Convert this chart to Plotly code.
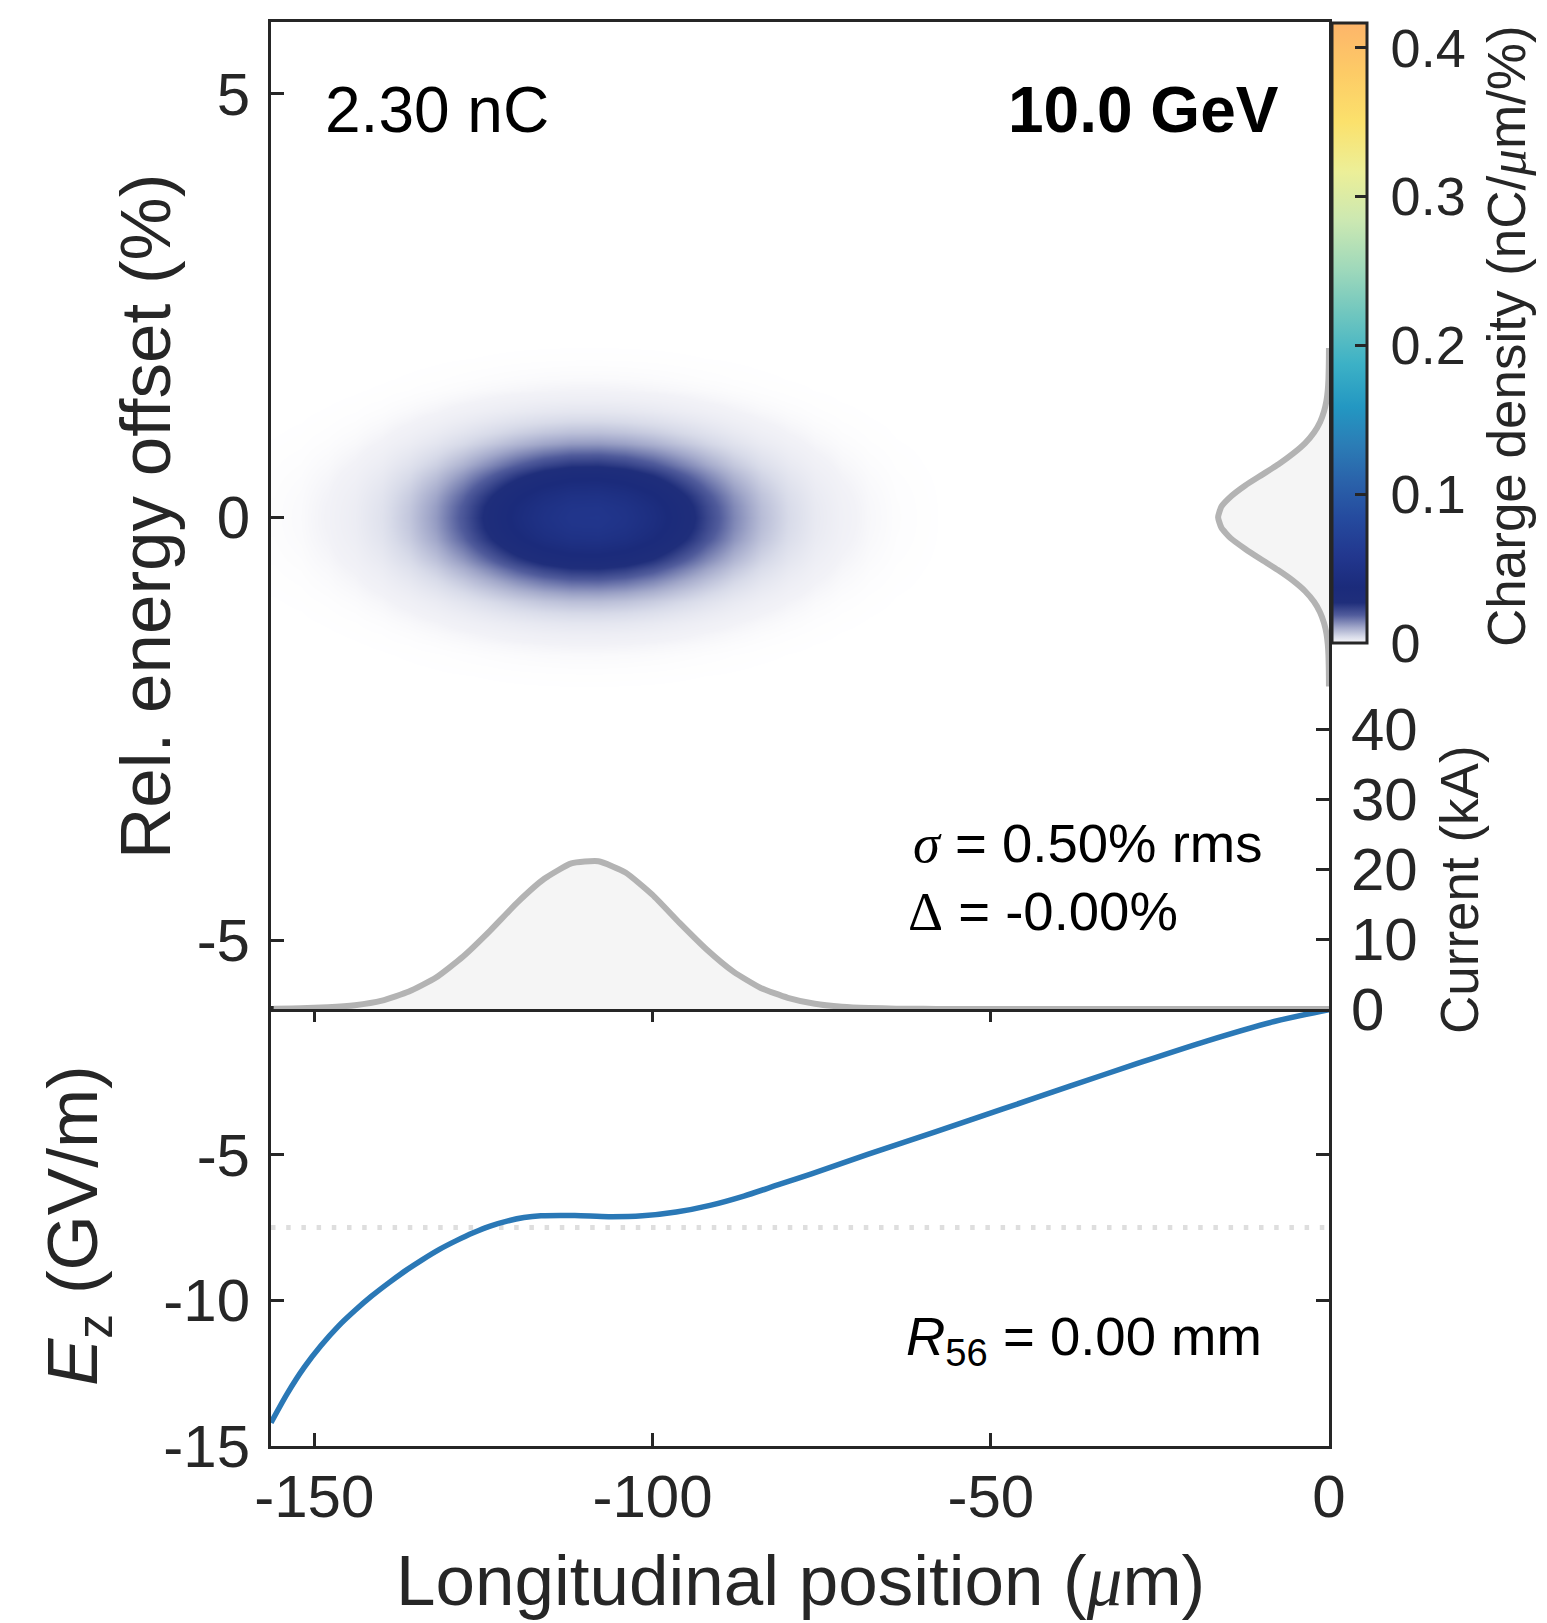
import numpy as np
import plotly.graph_objects as go

# ---------------- data ----------------
# Longitudinal position grid (µm) and beam current profile (kA)
z_um = [-156, -152, -148, -144, -140, -136, -132, -128, -124, -120,
        -116, -112, -108, -104, -100, -96, -92, -88, -84, -80,
        -76, -72, -68, -64, -60, -56, -52, -48, -44, -40,
        -36, -32, -28, -24, -20, -16, -12, -8, -4, 0]
current_kA = [0.05, 0.10, 0.25, 0.55, 1.2, 2.5, 4.5, 7.5, 11.2, 15.2,
              18.6, 20.8, 21.1, 19.5, 16.3, 12.3, 8.5, 5.3, 3.0, 1.6,
              0.75, 0.33, 0.14, 0.05, 0.02, 0.0, 0.0, 0.0, 0.0, 0.0,
              0.0, 0.0, 0.0, 0.0, 0.0, 0.0, 0.0, 0.0, 0.0, 0.0]

# Relative energy offset grid (%) and energy spectrum (relative units)
delta_pct = [-2.0, -1.875, -1.75, -1.625, -1.5, -1.375, -1.25, -1.125,
             -1.0, -0.875, -0.75, -0.625, -0.5, -0.375, -0.25, -0.125, 0.0,
             0.125, 0.25, 0.375, 0.5, 0.625, 0.75, 0.875, 1.0, 1.125, 1.25,
             1.375, 1.5, 1.625, 1.75, 1.875, 2.0]
spectrum = [0.0004, 0.001, 0.0025, 0.005, 0.011, 0.023, 0.045, 0.08,
            0.135, 0.215, 0.325, 0.46, 0.61, 0.755, 0.885, 0.97, 1.0,
            0.97, 0.88, 0.755, 0.605, 0.455, 0.325, 0.215, 0.135, 0.08, 0.045,
            0.023, 0.011, 0.005, 0.0025, 0.001, 0.0004]

# Longitudinal wakefield along the bunch (GV/m)
ez_z_um = [-156.4, -154.0, -151.5, -149.0, -146.5, -144.0, -141.5, -139.0, -136.5,
           -134.0, -131.5, -129.0, -126.5, -124.0, -121.5, -119.0, -116.5, -111.5,
           -106.5, -101.5, -96.5, -91.5, -86.5, -81.5, -76.5, -68.2, -58.2,
           -48.2, -38.2, -28.2, -18.1, -8.1, 0.0]
ez_GVm = [-14.20, -13.20, -12.30, -11.55, -10.90, -10.35, -9.85, -9.40, -8.98,
          -8.60, -8.25, -7.95, -7.68, -7.45, -7.28, -7.16, -7.10, -7.09,
          -7.13, -7.10, -6.97, -6.74, -6.42, -6.04, -5.66, -4.99, -4.22,
          -3.43, -2.64, -1.86, -1.10, -0.43, -0.02]
ez_reference = -7.5

charge_nC = 2.30
energy_GeV = 10.0
espread_rms = 0.50
espread_shift = -0.00
r56_mm = 0.00

# Charge density in (z, delta): line density from current times normalised spectrum
KA_PER_NC_UM = 299.79                                           # c in µm/fs, kA per nC/µm
line_density = np.array(current_kA) / KA_PER_NC_UM              # nC/µm
spec = np.array(spectrum)
d = np.array(delta_pct)
spec_norm = spec / np.trapezoid(spec, d)                        # 1/%
density = np.outer(spec_norm, line_density)                     # nC/µm/%

# ---------------- layout geometry (px) ----------------
FIG_W, FIG_H = 1547, 1623
L, R, T, B = 271, 218, 22, 177
PW, PH = FIG_W - L - R, FIG_H - T - B
SPLIT_PX = 1009                      # boundary between the two panels
split = (FIG_H - B - SPLIT_PX) / PH


def px(xp):
    return (xp - L) / PW


def py(yp):
    return (FIG_H - B - yp) / PH


X_RANGE = [-156.4, 0]
DELTA_RANGE = [-5.81, 5.85]
CURRENT_RANGE = [0, 141.0]
SPEC_SPAN = 9.54
CMAX = 0.4166

FONT = "Liberation Sans, Arial, Helvetica, sans-serif"
SERIF = "Liberation Serif"
AX = "#262626"
TICK_FS = 60
TITLE_FS = 71
NOTE_FS = 54.5


def labels(vals, prefix=""):
    # plain hyphen-minus for negative numbers
    return [prefix + f"{v:g}".replace("\u2212", "-") for v in vals]


colorscale = [
    [0.0, "#ffffff"], [0.0015, "#f2f2f7"], [0.01, "#d8dbe9"], [0.025, "#a2a8ca"],
    [0.045, "#515c9c"], [0.065, "#1f2e7b"], [0.09, "#1b2b7b"], [0.14, "#22378e"],
    [0.2, "#254a9e"], [0.26, "#2a62aa"], [0.32, "#2b7db6"], [0.38, "#2397c2"],
    [0.45, "#3cb1c6"], [0.53, "#6fc6bf"], [0.6, "#9dd8bb"], [0.68, "#cbe8b2"],
    [0.76, "#ecef98"], [0.84, "#fbe16c"], [0.92, "#fdcb66"], [1.0, "#fdb56a"],
]

fig = go.Figure()

cb_ticks = [0, 0.1, 0.2, 0.3, 0.4]
fig.add_trace(go.Heatmap(
    x=z_um, y=delta_pct, z=density, xaxis="x2", yaxis="y2",
    zmin=0, zmax=CMAX, zsmooth="best", colorscale=colorscale,
    hoverinfo="skip",
    colorbar=dict(
        x=px(1332), xanchor="left", xpad=0,
        y=py(23), yanchor="top", ypad=0,
        len=620, lenmode="pixels", thickness=35,
        outlinewidth=3, outlinecolor=AX,
        ticks="inside", ticklen=13, tickwidth=3, tickcolor=AX,
        tickvals=cb_ticks, ticktext=labels(cb_ticks, prefix="\u2009"),
        tickfont=dict(family=FONT, size=54, color=AX),
    ),
))

# energy spectrum projected on the right edge
fig.add_trace(go.Scatter(
    x=spectrum, y=delta_pct, xaxis="x3", yaxis="y2", mode="lines",
    line=dict(color="#b3b3b3", width=6, shape="spline", smoothing=0.5),
    fill="tozerox", fillcolor="#f5f5f5", hoverinfo="skip",
))

# current profile along the bottom
fig.add_trace(go.Scatter(
    x=z_um, y=current_kA, xaxis="x2", yaxis="y3", mode="lines",
    line=dict(color="#b3b3b3", width=6, shape="spline", smoothing=0.5),
    fill="tozeroy", fillcolor="#f5f5f5", hoverinfo="skip",
))

# wakefield
fig.add_trace(go.Scatter(
    x=ez_z_um, y=ez_GVm, xaxis="x", yaxis="y", mode="lines",
    line=dict(color="#2a78b6", width=5.5, shape="spline", smoothing=0.8),
    hoverinfo="skip",
))

axis_common = dict(showline=True, linewidth=3, linecolor=AX, showgrid=False,
                   zeroline=False, tickcolor=AX, tickwidth=3, ticklen=13,
                   tickfont=dict(family=FONT, size=TICK_FS, color=AX))

x_ticks = [-150, -100, -50, 0]
ez_ticks = [-15, -10, -5]
d_ticks = [-5, 0, 5]
i_ticks = [0, 10, 20, 30, 40]

fig.update_layout(
    width=FIG_W, height=FIG_H,
    margin=dict(l=L, r=R, t=T, b=B, autoexpand=False),
    paper_bgcolor="white", plot_bgcolor="white",
    showlegend=False,
    font=dict(family=FONT, color="#000000"),
    xaxis=dict(domain=[0, 1], anchor="y", range=X_RANGE,
               tickvals=x_ticks, ticktext=labels(x_ticks),
               ticks="inside", mirror="ticks", ticklabelstandoff=-4, **axis_common),
    yaxis=dict(domain=[0, split], anchor="x", range=[-15, 0],
               tickvals=ez_ticks, ticktext=labels(ez_ticks),
               ticks="inside", mirror="ticks", ticklabelstandoff=6, **axis_common),
    xaxis2=dict(domain=[0, 1], anchor="y2", range=X_RANGE, matches="x",
                showticklabels=False, ticks="", mirror=True,
                **{k: v for k, v in axis_common.items() if k != "ticklen"}),
    yaxis2=dict(domain=[split, 1], anchor="x2", range=DELTA_RANGE,
                tickvals=d_ticks, ticktext=labels(d_ticks),
                ticks="inside", mirror=True, ticklabelstandoff=6, **axis_common),
    xaxis3=dict(overlaying="x2", anchor="y2", range=[SPEC_SPAN, 0], visible=False),
    yaxis3=dict(overlaying="y2", anchor="x2", side="right", range=CURRENT_RANGE,
                tickvals=i_ticks, ticktext=labels(i_ticks),
                ticks="inside", showline=False,
                showgrid=False, zeroline=False, tickcolor=AX, tickwidth=3, ticklen=13,
                ticklabelstandoff=21,
                tickfont=dict(family=FONT, size=TICK_FS, color=AX)),
    shapes=[dict(type="line", xref="x domain", x0=0, x1=1, yref="y",
                 y0=ez_reference, y1=ez_reference, layer="below",
                 line=dict(color="#dedede", width=5, dash="4.5px,10.7px"))],
)


def ann(text, x, y, size, xanchor="center", yanchor="middle", angle=0, color="#000000"):
    fig.add_annotation(text=text, xref="paper", yref="paper", x=px(x), y=py(y),
                       xanchor=xanchor, yanchor=yanchor, textangle=angle,
                       showarrow=False, font=dict(family=FONT, size=size, color=color))


sig = f"<span style=\"font-family:{SERIF}\"><i>σ</i></span>"
dlt = f"<span style=\"font-family:{SERIF}\">Δ</span>"
mu = f"<span style=\"font-family:{SERIF}\"><i>μ</i></span>"

ann(f"{charge_nC:.2f} nC", 323, 110, 64, xanchor="left")
ann(f"<b>{energy_GeV:.1f} GeV</b>", 1281, 110, 64, xanchor="right")
ann(f"{sig} = {espread_rms:.2f}% rms", 1264, 843, NOTE_FS, xanchor="right")
ann(f"{dlt} = -{abs(espread_shift):.2f}%", 906, 911, NOTE_FS, xanchor="left")
ann(f"<i>R</i><sub>56</sub> = {r56_mm:.2f} mm", 1264, 1340, NOTE_FS, xanchor="right")

ann("Rel. energy offset (%)", 145, 517, TITLE_FS, angle=-90, color=AX)
ann("<i>E</i><sub>z</sub> (GV/m)", 78, 1226, TITLE_FS, angle=-90, color=AX)
ann(f"Longitudinal position ({mu}m)", 800, 1580, TITLE_FS, color=AX)
ann("Current (kA)", 1459, 890, 53, angle=-90, color=AX)
ann(f"Charge density (nC/{mu}m/%)", 1506, 336, 53, angle=-90, color=AX)

fig.write_html("out.html")
